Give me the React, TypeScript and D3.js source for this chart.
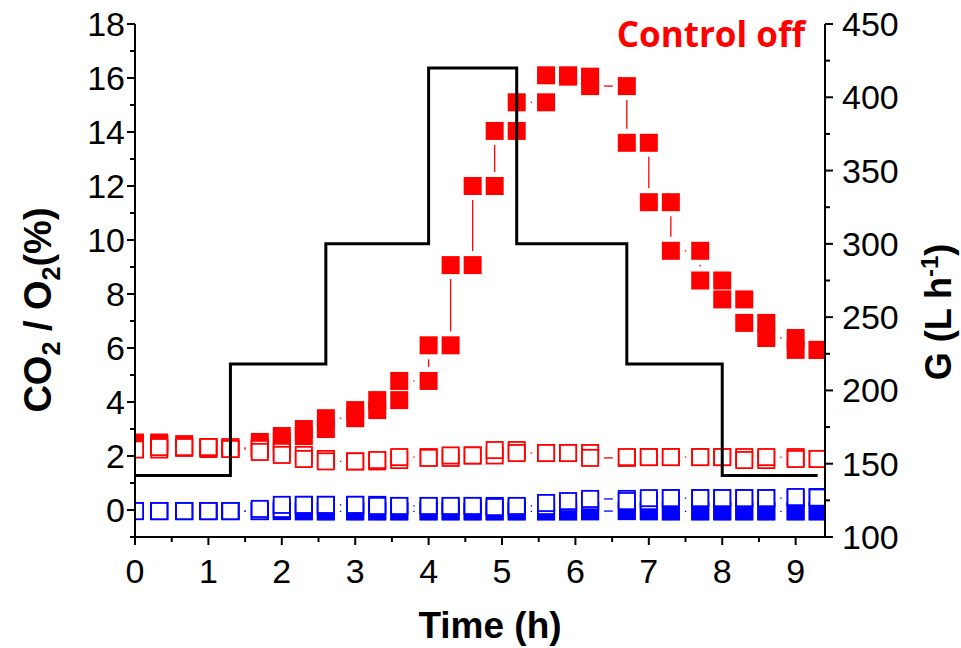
import React from "react";
import * as d3 from "d3";

// Sampling times (h)
const times = [0, 0.33, 0.67, 1.0, 1.3, 1.7, 2.0, 2.3, 2.6, 3.0, 3.3, 3.6, 4.0, 4.3, 4.6, 4.9, 5.2, 5.6, 5.9, 6.2, 6.7, 7.0, 7.3, 7.7, 8.0, 8.3, 8.6, 9.0, 9.3];

// CO2 (%) with control off — filled red squares
const co2Off = [2.5, 2.44, 2.3, 2.26, 2.3, 2.52, 2.74, 3.0, 3.4, 3.7, 4.07, 4.78, 6.1, 9.07, 12.0, 14.04, 15.1, 16.1, 16.05, 15.7, 13.6, 11.4, 9.6, 8.5, 7.8, 6.93, 6.37, 5.93, 5.93];
// CO2 (%) reference — open red squares
const co2Ref = [2.24, 2.33, 2.33, 2.33, 2.26, 2.15, 2.04, 1.89, 1.8, 1.8, 1.85, 1.96, 1.93, 2.02, 2.02, 2.22, 2.11, 2.11, 2.11, 1.93, 1.96, 1.96, 1.96, 1.96, 1.96, 1.85, 1.96, 1.89, 1.89];
// O2 (%) with control off — filled blue squares
const o2Off = [-0.04, -0.04, -0.04, -0.04, -0.04, -0.04, -0.04, -0.05, -0.05, -0.05, -0.05, -0.05, -0.05, -0.05, -0.05, -0.05, -0.05, -0.05, -0.05, -0.04, -0.04, -0.05, -0.05, -0.05, -0.05, -0.05, -0.05, -0.05, -0.05];
// O2 (%) reference — open blue squares
const o2Ref = [-0.04, -0.04, -0.04, -0.04, -0.04, 0.04, 0.19, 0.19, 0.19, 0.19, 0.15, 0.15, 0.15, 0.15, 0.15, 0.11, 0.15, 0.26, 0.33, 0.41, 0.33, 0.44, 0.44, 0.44, 0.44, 0.44, 0.44, 0.48, 0.46];

// Gas flow G (L h-1) step profile
const flowTimes = [0, 1.3, 2.6, 4.0, 5.2, 6.7, 8.0, 9.3];
const flowValues = [142, 218, 300, 420, 300, 218, 142, 142];

const leftTicks = [0, 2, 4, 6, 8, 10, 12, 14, 16, 18];
const rightTicks = [100, 150, 200, 250, 300, 350, 400, 450];
const xTicks = [0, 1, 2, 3, 4, 5, 6, 7, 8, 9];

const W = 961;
const H = 648;
const plot = { left: 135, right: 825, top: 24, bottom: 537 };

const x = d3.scaleLinear().domain([0, 9.4]).range([plot.left, plot.right]);
const yL = d3.scaleLinear().domain([-1, 18]).range([plot.bottom, plot.top]);
const yR = d3.scaleLinear().domain([100, 450]).range([plot.bottom, plot.top]);

const FONT = "'Liberation Sans', Arial, sans-serif";
const MS = 18; // marker size
const GAP = MS / 2 + 5; // connecting line stops short of each symbol

// Each reading is held until the next one: vertices at both corners of every step
function stepVertices(vals: number[]): [number, number][] {
  const pts: [number, number][] = [[times[0], vals[0]]];
  for (let i = 1; i < vals.length; i++) {
    pts.push([times[i], vals[i - 1]]);
    pts.push([times[i], vals[i]]);
  }
  return pts;
}

function gappedSegments(pts: [number, number][]) {
  const segs: { x1: number; y1: number; x2: number; y2: number }[] = [];
  for (let i = 1; i < pts.length; i++) {
    const ax = x(pts[i - 1][0]), ay = yL(pts[i - 1][1]);
    const bx = x(pts[i][0]), by = yL(pts[i][1]);
    const len = Math.hypot(bx - ax, by - ay);
    if (len <= 2 * GAP) continue;
    const ux = (bx - ax) / len, uy = (by - ay) / len;
    segs.push({ x1: ax + ux * GAP, y1: ay + uy * GAP, x2: bx - ux * GAP, y2: by - uy * GAP });
  }
  return segs;
}

function Series({ vals, color, filled }: { vals: number[]; color: string; filled: boolean }) {
  const pts = stepVertices(vals);
  const segs = gappedSegments(pts);
  return (
    <g>
      {segs.map((s, i) => (
        <line key={"s" + i} {...s} stroke={color} strokeWidth={1.3} />
      ))}
      {pts.map((p, i) => (
        <rect
          key={i}
          x={x(p[0]) - MS / 2 + (filled ? 0 : 0.9)}
          y={yL(p[1]) - MS / 2 + (filled ? 0 : 0.9)}
          width={filled ? MS : MS - 1.8}
          height={filled ? MS : MS - 1.8}
          fill={filled ? color : "#fff"}
          stroke={filled ? "none" : color}
          strokeWidth={1.8}
        />
      ))}
    </g>
  );
}

export default function App() {
  const flowLine = d3
    .line<number>()
    .x((_, i) => x(flowTimes[i]))
    .y((d) => yR(d))
    .curve(d3.curveStepAfter);

  const leftMinor = d3.range(-1, 18.001, 1);
  const rightMinor = d3.range(100, 450.001, 25);
  const xMinor = d3.range(0, 9.01, 0.5);

  return (
    <svg width={W} height={H} style={{ position: "absolute", left: 0, top: 0, background: "#fff" }} fontFamily={FONT}>
      <defs>
        <clipPath id="plotClip">
          <rect x={plot.left} y={0} width={plot.right - plot.left} height={plot.bottom} />
        </clipPath>
      </defs>

      <g clipPath="url(#plotClip)">
        <Series vals={co2Off} color="#ff0000" filled={true} />
        <Series vals={co2Ref} color="#ff0000" filled={false} />
        <Series vals={o2Off} color="#0000ff" filled={true} />
        <Series vals={o2Ref} color="#0000ff" filled={false} />
        <path d={flowLine(flowValues) ?? ""} fill="none" stroke="#000" strokeWidth={3} />
      </g>

      {/* axes */}
      <g stroke="#000" strokeWidth={2} fill="none">
        <line x1={plot.left} x2={plot.left} y1={plot.top} y2={plot.bottom} />
        <line x1={plot.right} x2={plot.right} y1={plot.top} y2={plot.bottom} />
        <line x1={plot.left} x2={plot.right} y1={plot.bottom} y2={plot.bottom} />
        {leftMinor.map((v) => (
          <line key={"lm" + v} x1={plot.left} x2={plot.left - (v % 2 === 0 ? 8 : 5)} y1={yL(v)} y2={yL(v)} />
        ))}
        {rightMinor.map((v) => (
          <line key={"rm" + v} x1={plot.right} x2={plot.right + (v % 50 === 0 ? 8 : 5)} y1={yR(v)} y2={yR(v)} />
        ))}
        {xMinor.map((v) => (
          <line key={"xm" + v} x1={x(v)} x2={x(v)} y1={plot.bottom} y2={plot.bottom + (v % 1 === 0 ? 8 : 5)} />
        ))}
      </g>

      <g fontSize={34} fill="#000">
        {leftTicks.map((v) => (
          <text key={"lt" + v} x={plot.left - 10} y={yL(v)} textAnchor="end" dominantBaseline="central">
            {v}
          </text>
        ))}
        {rightTicks.map((v) => (
          <text key={"rt" + v} x={plot.right + 17} y={yR(v)} textAnchor="start" dominantBaseline="central">
            {v}
          </text>
        ))}
        {xTicks.map((v) => (
          <text key={"xt" + v} x={x(v)} y={571} textAnchor="middle" dominantBaseline="central">
            {v}
          </text>
        ))}
      </g>

      <text x={490} y={638} textAnchor="middle" fontSize={37} fontWeight="bold">
        Time (h)
      </text>

      <text transform="translate(51,310) rotate(-90)" textAnchor="middle" fontSize={38} fontWeight="bold">
        CO<tspan fontSize={25} dy={9}>2</tspan>
        <tspan dy={-9}> / O</tspan>
        <tspan fontSize={25} dy={9}>2</tspan>
        <tspan dy={-9}>(%)</tspan>
      </text>

      <text transform="translate(951,312) rotate(-90)" textAnchor="middle" fontSize={36} fontWeight="bold">
        G (L h<tspan fontSize={24} dy={-13}>-1</tspan>
        <tspan dy={13}>)</tspan>
      </text>

      <text x={805} y={47} textAnchor="end" fontSize={35} fontWeight="bold" fill="#ff0000" fontFamily="'Open Sans', sans-serif">
        Control off
      </text>
    </svg>
  );
}
